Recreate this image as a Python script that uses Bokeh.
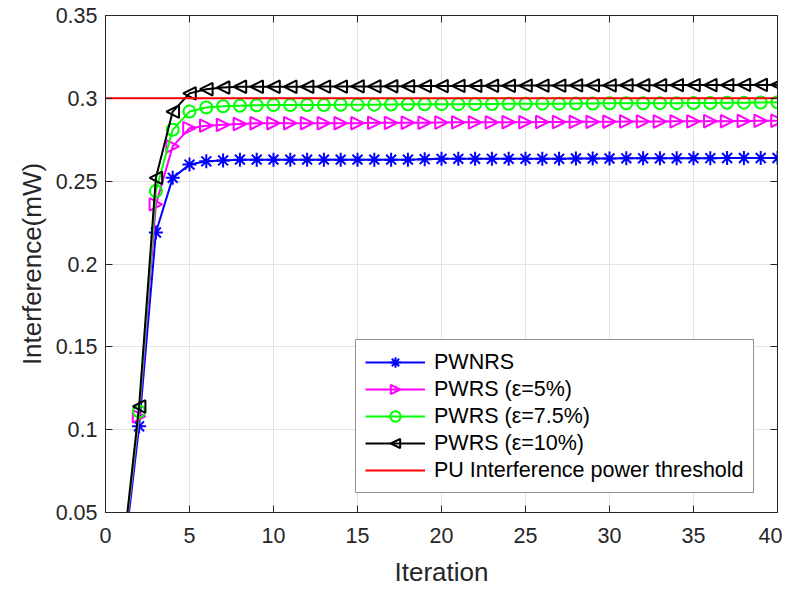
import numpy as np
from bokeh.plotting import figure
from bokeh.models import LinearAxis, FixedTicker, CustomJSTickFormatter, CustomJS, Scatter
from bokeh.embed import file_html
from bokeh.resources import INLINE

iterations = list(range(1, 41))

pwnrs = [0.015, 0.102, 0.219, 0.252, 0.260, 0.262, 0.2625, 0.263, 0.263, 0.263,
         0.263, 0.263, 0.263, 0.263, 0.263, 0.263, 0.263, 0.263, 0.2633, 0.2635,
         0.2635, 0.2635, 0.2635, 0.2635, 0.2635, 0.2635, 0.2635, 0.2637, 0.2637, 0.2637,
         0.2638, 0.2638, 0.2638, 0.2638, 0.2639, 0.2639, 0.264, 0.264, 0.264, 0.264]

pwrs_5 = [0.018, 0.108, 0.236, 0.271, 0.282, 0.2835, 0.284, 0.2845, 0.285, 0.285,
          0.285, 0.285, 0.285, 0.285, 0.285, 0.2852, 0.2852, 0.2853, 0.2853, 0.2854,
          0.2855, 0.2855, 0.2855, 0.2856, 0.2856, 0.2857, 0.2857, 0.2858, 0.2858, 0.2859,
          0.286, 0.286, 0.286, 0.2861, 0.2861, 0.2862, 0.2862, 0.2863, 0.2864, 0.2865]

pwrs_75 = [0.020, 0.111, 0.244, 0.281, 0.292, 0.2945, 0.2952, 0.2955, 0.2958, 0.296,
           0.296, 0.296, 0.296, 0.2961, 0.2962, 0.2962, 0.2963, 0.2964, 0.2964, 0.2965,
           0.2965, 0.2966, 0.2966, 0.2967, 0.2967, 0.2968, 0.2968, 0.2969, 0.2969, 0.297,
           0.297, 0.297, 0.2971, 0.2971, 0.2972, 0.2972, 0.2973, 0.2974, 0.2975, 0.2976]

pwrs_10 = [0.022, 0.114, 0.252, 0.292, 0.303, 0.3055, 0.3065, 0.307, 0.307, 0.307,
           0.307, 0.307, 0.3071, 0.3071, 0.3072, 0.3072, 0.3073, 0.3073, 0.3074, 0.3074,
           0.3075, 0.3075, 0.3076, 0.3076, 0.3077, 0.3077, 0.3077, 0.3078, 0.3078, 0.3078,
           0.3079, 0.3079, 0.3079, 0.308, 0.308, 0.308, 0.308, 0.3081, 0.3081, 0.3082]

threshold_x = [0, 40]
threshold_y = [0.3, 0.3]

x_ticks = [0, 5, 10, 15, 20, 25, 30, 35, 40]
y_ticks = [0.05, 0.1, 0.15, 0.2, 0.25, 0.3, 0.35]

FONT = "Liberation Sans"
AX = "#262626"

p = figure(width=782, height=589, x_range=(0, 40), y_range=(0.05, 0.35),
           output_backend="svg", toolbar_location=None,
           min_border_left=105, min_border_right=5, min_border_top=15, min_border_bottom=75)
p.outline_line_color = AX
p.outline_line_width = 1
p.background_fill_color = "white"
p.border_fill_color = "white"

for ax in (p.xaxis[0], p.yaxis[0]):
    ax.axis_line_color = AX
    ax.axis_line_width = 1
    ax.major_tick_line_color = AX
    ax.major_tick_in = 7
    ax.major_tick_out = 0
    ax.minor_tick_line_color = None
    ax.major_label_text_font = FONT
    ax.major_label_text_font_size = "21.5px"
    ax.major_label_text_color = AX
    ax.axis_label_text_font = FONT
    ax.axis_label_text_font_size = "26px"
    ax.axis_label_text_font_style = "normal"
    ax.axis_label_text_color = AX

p.xaxis.ticker = FixedTicker(ticks=x_ticks)
p.yaxis.ticker = FixedTicker(ticks=y_ticks)
p.xaxis.axis_label = "Iteration"
p.yaxis.axis_label = "Interference(mW)"
p.xaxis.major_label_standoff = 15
p.yaxis.major_label_standoff = 8
p.xaxis.axis_label_standoff = 11
p.yaxis.axis_label_standoff = 6

blank = CustomJSTickFormatter(code="return ''")
for loc, ticks in (("right", y_ticks), ("above", x_ticks)):
    a = LinearAxis(ticker=FixedTicker(ticks=ticks), formatter=blank)
    a.axis_line_color = AX
    a.major_tick_line_color = AX
    a.major_tick_in = 7
    a.major_tick_out = 0
    a.minor_tick_line_color = None
    a.major_label_text_font_size = "0px"
    a.major_label_standoff = 0
    p.add_layout(a, loc)

p.xgrid.ticker = FixedTicker(ticks=x_ticks)
p.ygrid.ticker = FixedTicker(ticks=y_ticks)
p.grid.grid_line_color = "#e3e3e3"
p.grid.grid_line_width = 1

# custom right / left pointing triangle markers (so the legend shows them too)
TRI_R = CustomJS(code="""
const {ctx, i, r, visuals} = cb_data
const a = 0.9*r
ctx.moveTo(a, 0)
ctx.lineTo(-a, a)
ctx.lineTo(-a, -a)
ctx.closePath()
visuals.fill.apply(ctx, i)
visuals.line.apply(ctx, i)
""")
TRI_L = CustomJS(code="""
const {ctx, i, r, visuals} = cb_data
const a = 0.9*r
ctx.moveTo(-a, 0)
ctx.lineTo(a, a)
ctx.lineTo(a, -a)
ctx.closePath()
visuals.fill.apply(ctx, i)
visuals.line.apply(ctx, i)
""")
has_defs = "defs" in Scatter.properties()

LW = 2
p.line(iterations, pwnrs, line_color="#0000ff", line_width=LW, legend_label="PWNRS")
p.scatter(iterations[1:], pwnrs[1:], marker="asterisk", size=14, line_color="#0000ff",
          line_width=2, legend_label="PWNRS")

p.line(iterations, pwrs_5, line_color="#ff00ff", line_width=LW, legend_label="PWRS (ε=5%)")
if has_defs:
    p.scatter(iterations[1:], pwrs_5[1:], marker="@trir", defs={"@trir": TRI_R}, size=14,
              line_color="#ff00ff", fill_color=None, line_width=2, legend_label="PWRS (ε=5%)")
else:
    p.scatter(iterations[1:], pwrs_5[1:], marker="triangle", angle=-np.pi / 2, size=14,
              line_color="#ff00ff", fill_color=None, line_width=2, legend_label="PWRS (ε=5%)")

p.line(iterations, pwrs_75, line_color="#00ff00", line_width=LW, legend_label="PWRS (ε=7.5%)")
p.scatter(iterations[1:], pwrs_75[1:], marker="circle", size=12, line_color="#00ff00",
          fill_color=None, line_width=2, legend_label="PWRS (ε=7.5%)")

p.line(iterations, pwrs_10, line_color="#000000", line_width=LW, legend_label="PWRS (ε=10%)")
if has_defs:
    p.scatter(iterations[1:], pwrs_10[1:], marker="@tril", defs={"@tril": TRI_L}, size=14,
              line_color="#000000", fill_color=None, line_width=2, legend_label="PWRS (ε=10%)")
else:
    p.scatter(iterations[1:], pwrs_10[1:], marker="triangle", angle=np.pi / 2, size=14,
              line_color="#000000", fill_color=None, line_width=2, legend_label="PWRS (ε=10%)")

p.line(threshold_x, threshold_y, line_color="#ff0000", line_width=LW,
       legend_label="PU Interference power threshold")

lg = p.legend[0]
lg.location = (250, 19)
lg.label_text_font = FONT
lg.label_text_font_size = "21.5px"
lg.label_text_color = "#000000"
lg.glyph_width = 60
lg.glyph_height = 26
lg.label_standoff = 9
lg.spacing = 1
lg.padding = 9
lg.margin = 0
lg.border_line_color = AX
lg.border_line_width = 1
lg.background_fill_color = "white"
lg.background_fill_alpha = 1

open("out.html", "w").write(file_html(p, INLINE))
